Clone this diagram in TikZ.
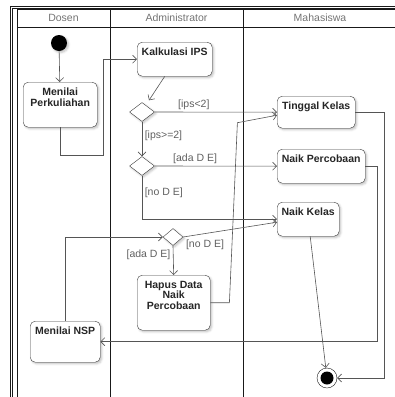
\documentclass[tikz,border=0pt]{standalone}
\usepackage{fontspec}
\setmainfont{Liberation Sans}
\usepackage{tikz}
\usetikzlibrary{shapes.geometric,arrows.meta,calc,shadows,shadows.blur,positioning}
\definecolor{framecolor}{RGB}{25,25,25}
\definecolor{edgecolor}{RGB}{85,85,85}
\definecolor{boxcolor}{RGB}{60,60,60}
\definecolor{guardcolor}{RGB}{95,95,95}
\newcommand{\acttext}[3]{\parbox[t][#2][t]{#1}{\centering #3}}

\begin{document}
\begin{tikzpicture}[
        x=1pt, y=-1pt,
        >={Straight Barb[length=4pt,width=8pt]},
        actnode/.style={rectangle, rounded corners=5pt, draw=boxcolor, fill=white, anchor=north west, inner xsep=0pt, inner ysep=6pt, text=black!85, font=\fontsize{10.5}{10.5}\selectfont\bfseries, blur shadow={shadow xshift=1.5pt, shadow yshift=-1.5pt, shadow opacity=25, shadow blur steps=4}},
        decnode/.style={diamond, draw=boxcolor, fill=white, inner sep=0pt, minimum width=25pt, minimum height=19pt, blur shadow={shadow xshift=1.5pt, shadow yshift=-1.5pt, shadow opacity=25, shadow blur steps=4}},
        startnode/.style={circle, fill=black, inner sep=0pt, minimum size=16pt, blur shadow={shadow xshift=1.5pt, shadow yshift=-1.5pt, shadow opacity=25, shadow blur steps=4}},
        endnode/.style={circle, draw=framecolor, fill=white, inner sep=0pt, minimum size=20pt, path picture={\fill[black] (path picture bounding box.center) circle (6.5pt);}},
        lanehead/.style={text=black!55, font=\fontsize{10.5}{10.5}\selectfont},
        lane/.style={draw=framecolor, line width=0.8pt},
        flow/.style={->, draw=edgecolor, line width=0.6pt},
        guard/.style={text=guardcolor, font=\fontsize{10.5}{10.5}\selectfont, inner sep=2.5pt}
    ]
        \useasboundingbox (0,0) rectangle (395,397);
        \clip (0,0) rectangle (395,397);

        % swimlanes
        \draw[lane] (10,400) |- (400,6);
        \draw[lane] (12,400) |- (400,8);
        \draw[lane] (17,400) |- (400,9.5);
        \draw[lane] (17,27) -- (400,27);
        \draw[lane] (110,9.5) -- (110,400);
        \draw[lane] (243,9.5) -- (243,400);
        \node[lanehead] (hdDosen) at (63.5,18) {Dosen};
        \node[lanehead] (hdAdmin) at (176.5,18) {Administrator};
        \node[lanehead] (hdMhs) at (320,18) {Mahasiswa};

        % activities
        \node[startnode] (start) at (59,43) {};
        \node[actnode] (perk) at (23,82) {\acttext{74pt}{33pt}{Menilai\\Perkuliahan}};
        \node[actnode] (kalk) at (137,42) {\acttext{75pt}{22pt}{Kalkulasi IPS}};
        \node[decnode] (cekIps) at (142,112) {};
        \node[decnode] (cekDE) at (142,166) {};
        \node[actnode] (tinggal) at (277,96) {\acttext{78pt}{20pt}{Tinggal Kelas}};
        \node[actnode] (percob) at (277,149) {\acttext{88pt}{22pt}{Naik Percobaan}};
        \node[actnode] (naik) at (277,202) {\acttext{62pt}{22pt}{Naik Kelas}};
        \node[decnode, minimum width=20pt, minimum height=17pt] (cekNsp) at (173,237) {};
        \node[actnode] (hapus) at (137,275) {\acttext{73pt}{43pt}{Hapus Data\\Naik\\Percobaan}};
        \node[actnode] (nsp) at (30,321) {\acttext{70pt}{29pt}{Menilai NSP}};
        \node[endnode] (finish) at (327,378) {};

        % flows
        \draw[flow] (start) -- (perk);
        \draw[flow] (perk.south) -- ++(0,28) -- ++(43,0) |- (kalk.west);
        \draw[flow] ($(kalk.south)+(-10,0)$) -- ($(cekIps.north)+(7,-2)$);
        \draw[flow] (cekIps.east) -- node[guard, above, pos=0.32] (gLow) {[ips<2]} (tinggal.west);
        \draw[flow] (cekIps.south) -- node[guard, right, pos=0.4] (gHigh) {[ips>=2]} (cekDE.north);
        \draw[flow] (cekDE.east) -- node[guard, above, pos=0.33] (gAda1) {[ada D E]} (percob.west);
        \draw[flow] (cekDE.south) |- node[guard, right, pos=0.2] (gNo1) {[no D E]} (naik.west);
        \draw[flow] (cekNsp.east) -- node[guard, below right, pos=0] (gNo2) {[no D E]} ($(naik.west)+(0,3)$);
        \draw[flow] (cekNsp.south) -- node[guard, left, pos=0.3] (gAda2) {[ada D E]} (hapus.north);
        \draw[flow] (hapus.east) -- ++(19,0) -- ++(8,-180) -- ($(tinggal.west)+(0,3)$);
        \draw[flow] ($(naik.south)+(2,0)$) -- (finish);
        \draw[flow] (tinggal.east) -- ++(29,0) |- (finish.east);
        \draw[flow] (percob.east) -- ++(12,0) |- (nsp.east);
        \draw[flow] (nsp.north) |- (cekNsp.west);
    \end{tikzpicture}
\end{document}
